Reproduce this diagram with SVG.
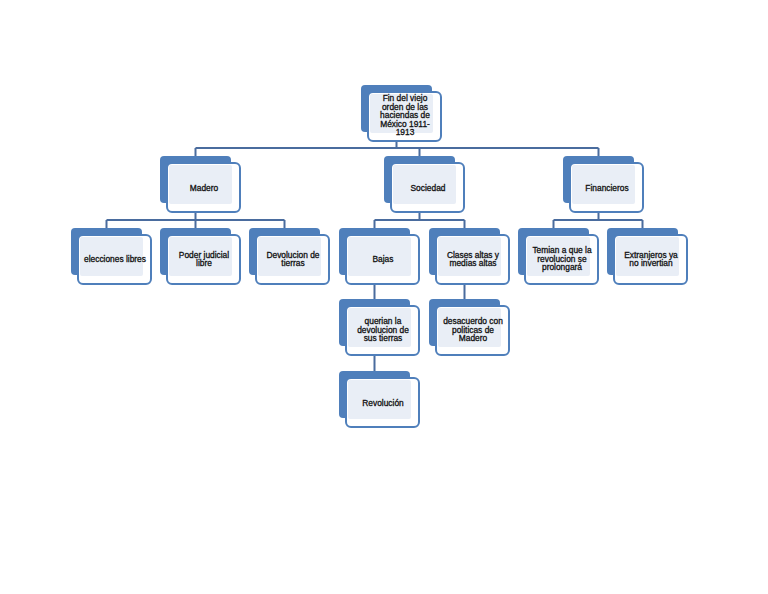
<svg xmlns="http://www.w3.org/2000/svg" width="768" height="594" viewBox="0 0 768 594">
<style>
.bk{fill:#4f7fbb;}
.fr{fill:#ffffff;stroke:#4f7fbb;stroke-width:2;}
.in{fill:#e9eef6;}
.c{fill:none;stroke:#4a6c9e;stroke-width:2;}
text{font-family:"Liberation Sans",Arial,sans-serif;font-size:8.4px;fill:#111;text-anchor:middle;stroke:#111;stroke-width:0.3;}
</style>
<defs>
<g id="box">
<rect class="bk" x="0" y="0" width="71" height="47" rx="4"/>
<rect class="fr" x="7" y="7" width="73" height="49" rx="5"/>
<rect class="in" x="9" y="9" width="63" height="39" rx="2"/>
</g>
</defs>
<rect width="768" height="594" fill="#ffffff"/>
<g id="connectors">
<path class="c" d="M396.5,141 V148 M195.5,148 H598.5 M195.5,148 V163 M419.5,148 V163 M598.5,148 V163"/>
<path class="c" d="M195.5,213 V220 M106.5,220 H284.5 M106.5,220 V235 M195.5,220 V235 M284.5,220 V235"/>
<path class="c" d="M419.5,213 V220 M374.5,220 H464.5 M374.5,220 V235 M464.5,220 V235"/>
<path class="c" d="M598.5,213 V220 M553.5,220 H642.5 M553.5,220 V235 M642.5,220 V235"/>
<path class="c" d="M374.5,285 V306 M464.5,285 V306 M374.5,356 V378"/>
</g>
<g id="root"><use href="#box" x="361" y="85"/>
<text x="405" y="101">Fin del viejo</text><text x="405" y="109.5">orden de las</text><text x="405" y="118">haciendas de</text><text x="405" y="126.5">México 1911-</text><text x="405" y="135">1913</text></g>
<g id="madero"><use href="#box" x="160" y="156"/><text x="204" y="190.5">Madero</text></g>
<g id="sociedad"><use href="#box" x="384" y="156"/><text x="428" y="190.5">Sociedad</text></g>
<g id="financieros"><use href="#box" x="563" y="156"/><text x="607" y="190.5">Financieros</text></g>
<g id="elecciones"><use href="#box" x="71" y="228"/><text x="115" y="262">elecciones libres</text></g>
<g id="poder"><use href="#box" x="160" y="228"/><text x="204" y="257.5">Poder judicial</text><text x="204" y="266">libre</text></g>
<g id="devolucion"><use href="#box" x="249" y="228"/><text x="293" y="257.5">Devolucion de</text><text x="293" y="266">tierras</text></g>
<g id="bajas"><use href="#box" x="339" y="228"/><text x="383" y="262">Bajas</text></g>
<g id="clases"><use href="#box" x="429" y="228"/><text x="473" y="257.5">Clases altas y</text><text x="473" y="266">medias altas</text></g>
<g id="temian"><use href="#box" x="518" y="228"/><text x="562" y="253">Temian a que la</text><text x="562" y="261.5">revolucion se</text><text x="562" y="270">prolongará</text></g>
<g id="extranjeros"><use href="#box" x="607" y="228"/><text x="651" y="257.5">Extranjeros ya</text><text x="651" y="266">no invertian</text></g>
<g id="querian"><use href="#box" x="339" y="299"/><text x="383" y="324">querian la</text><text x="383" y="332.5">devolucion de</text><text x="383" y="341">sus tierras</text></g>
<g id="desacuerdo"><use href="#box" x="429" y="299"/><text x="473" y="324">desacuerdo con</text><text x="473" y="332.5">politicas de</text><text x="473" y="341">Madero</text></g>
<g id="revolucion"><use href="#box" x="339" y="371"/><text x="383" y="405.5">Revolución</text></g>
</svg>
